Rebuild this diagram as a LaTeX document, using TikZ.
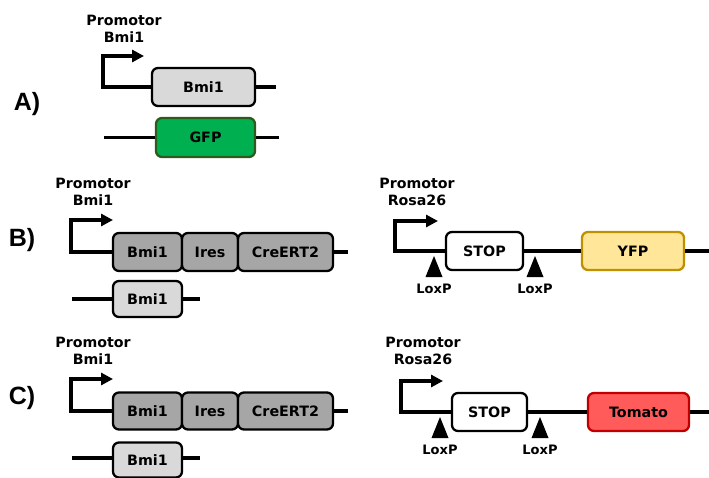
\documentclass[tikz,border=0pt]{standalone}
\usepackage{fontspec}
\setmainfont{DejaVu Sans}
\newfontfamily\labfont{Liberation Sans}
\usetikzlibrary{arrows.meta}
\definecolor{lgray}{HTML}{D9D9D9}
\definecolor{dgray}{HTML}{A6A6A6}
\definecolor{gfpfill}{HTML}{00B050}
\definecolor{gfpdraw}{HTML}{2E5A1C}
\definecolor{yfpfill}{HTML}{FFE699}
\definecolor{yfpdraw}{HTML}{BF9000}
\definecolor{tomfill}{HTML}{FF5B5B}
\definecolor{tomdraw}{HTML}{C00000}
\tikzset{
  gene/.style={draw=black, line width=2.3pt, rounded corners=6pt, inner sep=0pt,
    minimum height=38pt, font=\bfseries\fontsize{14.3}{15}\selectfont},
  dna/.style={line width=3.2pt},
  prom/.style={line width=3.2pt, -{Triangle[length=12pt,width=12pt]}},
  promlab/.style={font=\bfseries\fontsize{14.2}{17.5}\selectfont, inner sep=0pt, align=center},
  panel/.style={font=\labfont\bfseries\fontsize{25}{27}\selectfont, inner sep=0pt},
  loxlab/.style={font=\bfseries\fontsize{13}{14}\selectfont, inner sep=0pt}
}
\newcommand{\loxp}[3]{% name, x, y(top of triangle)
  \fill (#2-8.5,#3+21) -- (#2,#3) -- (#2+8.5,#3+21) -- cycle;
  \node[loxlab] (#1) at (#2,#3+33) {LoxP};
}
\begin{document}
\begin{tikzpicture}[x=1pt,y=-1pt]
\useasboundingbox (0,0) rectangle (709,478);

% ---------------- A ----------------
\node[panel] (pA) at (27,104) {A)};
\node[promlab] (plA) at (124,29) {Promotor\\Bmi1};
\node[gene, fill=lgray, minimum width=103pt] (a1) at (203.5,87) {Bmi1};
\coordinate (aP) at (103,87);
\coordinate (aE) at (276,87);
\draw[dna] (a1.east) -- (aE);
\draw[prom] (a1.west) -- (aP) -- (103,56) -- (144,56);
\node[gene, fill=gfpfill, draw=gfpdraw, minimum width=99pt, minimum height=39pt] (gfp) at (205.5,137.5) {GFP};
\coordinate (gS) at (104,137.5);
\coordinate (gE) at (279,137.5);
\draw[dna] (gS) -- (gfp.west);
\draw[dna] (gfp.east) -- (gE);

% ---------------- B left ----------------
\node[panel] (pB) at (22,240) {B)};
\node[promlab] (plB) at (93,192) {Promotor\\Bmi1};
\node[gene, fill=dgray, minimum width=69pt] (b1) at (147.5,252) {Bmi1};
\node[gene, fill=dgray, minimum width=56pt] (b2) at (210,252) {Ires};
\node[gene, fill=dgray, minimum width=95pt] (b3) at (285.5,252) {CreERT2};
\coordinate (bE) at (348,252);
\draw[dna] (b3.east) -- (bE);
\draw[prom] (b1.west) -- (71,252) -- (71,220) -- (113,220);
\node[gene, fill=lgray, minimum width=69pt, minimum height=36pt] (b4) at (147.5,299) {Bmi1};
\coordinate (b4S) at (72,299);
\coordinate (b4E) at (200,299);
\draw[dna] (b4S) -- (b4.west);
\draw[dna] (b4.east) -- (b4E);

% ---------------- B right ----------------
\node[promlab] (plBr) at (417,192) {Promotor\\Rosa26};
\node[gene, fill=white, minimum width=77pt] (bs) at (484.5,251) {STOP};
\node[gene, fill=yfpfill, draw=yfpdraw, minimum width=102pt] (yfp) at (633,251) {YFP};
\coordinate (brE) at (709,251);
\draw[dna] (bs.east) -- (yfp.west);
\draw[dna] (yfp.east) -- (brE);
\draw[prom] (bs.west) -- (395,251) -- (395,221) -- (438,221);
\loxp{lxb1}{434}{256}
\loxp{lxb2}{535}{256}

% ---------------- C left ----------------
\node[panel] (pC) at (22,398) {C)};
\node[promlab] (plC) at (93,351) {Promotor\\Bmi1};
\node[gene, fill=dgray, minimum width=69pt, minimum height=37pt] (c1) at (147.5,411) {Bmi1};
\node[gene, fill=dgray, minimum width=56pt, minimum height=37pt] (c2) at (210,411) {Ires};
\node[gene, fill=dgray, minimum width=95pt, minimum height=37pt] (c3) at (285.5,411) {CreERT2};
\coordinate (cE) at (348,411);
\draw[dna] (c3.east) -- (cE);
\draw[prom] (c1.west) -- (71,411) -- (71,379) -- (113,379);
\node[gene, fill=lgray, minimum width=69pt, minimum height=35pt] (c4) at (147.5,460) {Bmi1};
\coordinate (c4S) at (72,458);
\coordinate (c4E) at (200,458);
\draw[dna] (c4S) -- (c4S -| c4.west);
\draw[dna] (c4E -| c4.east) -- (c4E);

% ---------------- C right ----------------
\node[promlab] (plCr) at (423,351) {Promotor\\Rosa26};
\node[gene, fill=white, minimum width=75pt] (cs) at (489.5,412) {STOP};
\node[gene, fill=tomfill, draw=tomdraw, minimum width=101pt] (tom) at (638.5,412) {Tomato};
\coordinate (crE) at (709,412);
\draw[dna] (cs.east) -- (tom.west);
\draw[dna] (tom.east) -- (crE);
\draw[prom] (cs.west) -- (401,412) -- (401,381) -- (443,381);
\loxp{lxc1}{440}{417}
\loxp{lxc2}{540}{417}
\end{tikzpicture}
\end{document}
